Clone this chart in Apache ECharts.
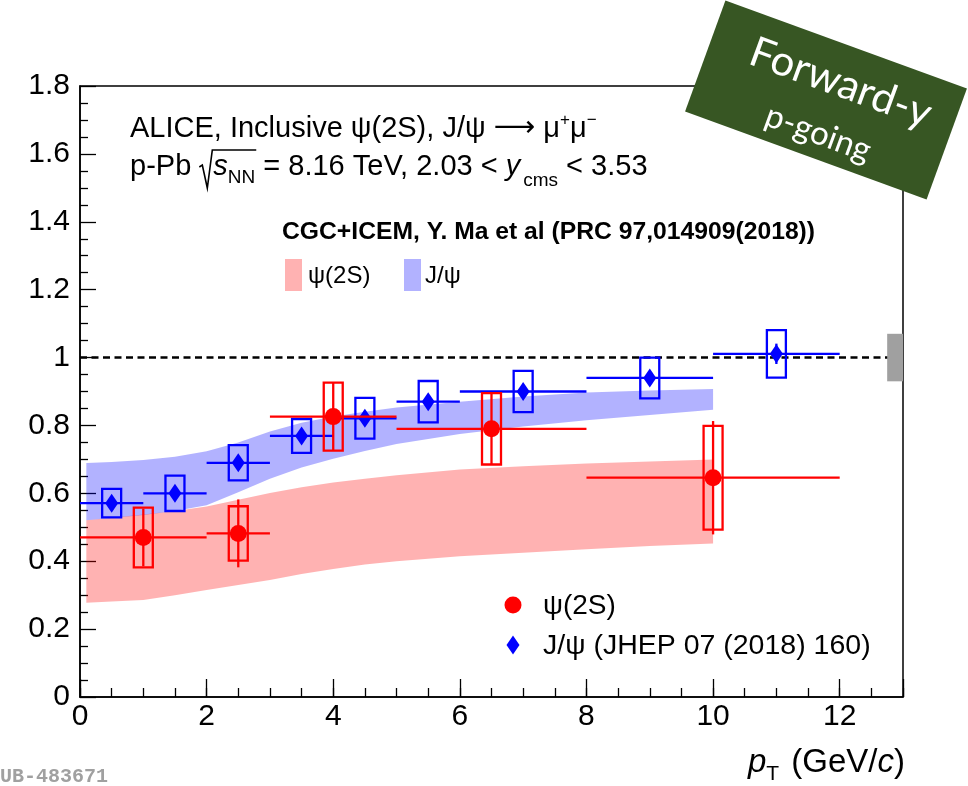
<!DOCTYPE html>
<html>
<head>
<meta charset="utf-8">
<script src="https://cdn.jsdelivr.net/npm/echarts@6/dist/echarts.min.js"></script>
<style>
  html, body { margin: 0; padding: 0; background: #fff; }
  #chart { width: 968px; height: 786px; }
</style>
</head>
<body>
<div id="chart"></div>
<script>
// ---- psi(2S) nuclear modification factor (forward rapidity) ----
const psi2sX    = [1, 2.5, 4, 6.5, 10];
const psi2sXerr = [1, 0.5, 1, 1.5, 2];
const psi2sR    = [0.470, 0.482, 0.826, 0.790, 0.646];
const psi2sStat = [0.085, 0.100, 0.100, 0.105, 0.167];
const psi2sSyst = [0.088, 0.080, 0.100, 0.105, 0.153];

// ---- J/psi nuclear modification factor (JHEP 07 (2018) 160) ----
const jpsiX    = [0.5, 1.5, 2.5, 3.5, 4.5, 5.5, 7, 9, 11];
const jpsiXerr = [0.5, 0.5, 0.5, 0.5, 0.5, 0.5, 1, 1, 1];
const jpsiR    = [0.571, 0.600, 0.690, 0.769, 0.821, 0.870, 0.900, 0.940, 1.011];
const jpsiStat = [0.010, 0.010, 0.012, 0.012, 0.015, 0.015, 0.020, 0.020, 0.030];
const jpsiSyst = [0.042, 0.052, 0.052, 0.050, 0.060, 0.061, 0.061, 0.060, 0.070];

// ---- CGC+ICEM model bands ----
const modelX       = [0.1, 0.5, 1, 1.5, 2, 2.5, 3, 3.5, 4, 4.5, 5, 6, 7, 8, 9, 10];
const jpsiModelHi  = [0.689, 0.692, 0.698, 0.708, 0.724, 0.750, 0.782, 0.808, 0.826, 0.840, 0.853, 0.870, 0.885, 0.897, 0.903, 0.907];
const jpsiModelLo  = [0.521, 0.527, 0.536, 0.548, 0.565, 0.603, 0.643, 0.676, 0.702, 0.725, 0.745, 0.775, 0.797, 0.815, 0.831, 0.846];
const psi2sModelHi = [0.521, 0.528, 0.538, 0.548, 0.561, 0.581, 0.601, 0.618, 0.632, 0.643, 0.653, 0.670, 0.680, 0.688, 0.694, 0.700];
const psi2sModelLo = [0.278, 0.281, 0.286, 0.300, 0.315, 0.330, 0.345, 0.362, 0.377, 0.390, 0.400, 0.415, 0.425, 0.435, 0.445, 0.452];

// ---- unity reference and global normalisation uncertainty ----
const unity = 1;
const globalUnc = 0.07;

// ---- axis ticks ----
const xMin = 0, xMax = 13, xMajor = 2, xMinor = 0.5;
const yMin = 0, yMax = 1.8, yMajor = 0.2;

// drawing constants
const BOX_HALF = 0.15;          // half width of systematic boxes (GeV/c)
const GLOBAL_BOX = [12.75, 13]; // x span of the global uncertainty box
const RED = '#ff0000', BLUE = '#0000ff';
const FONT = '"Liberation Sans", Arial, Helvetica, sans-serif';
const SYM = '"DejaVu Sans", sans-serif';

// text layout helper: measures runs so sub/superscripts sit next to their base
const meas = document.createElement('canvas').getContext('2d');
function runWidth(p) {
  meas.font = `${p.italic ? 'italic' : 'normal'} ${p.bold ? 'bold' : 'normal'} ${p.size}px ${p.family || FONT}`;
  return meas.measureText(p.t).width;
}
function textRun(x, baseline, parts, z) {
  const els = [];
  let cx = x;
  parts.forEach(p => {
    const fam = p.family || FONT;
    els.push({
      type: 'text', z: z || 50, x: cx + (p.dx || 0), y: baseline + (p.dy || 0) - 0.35 * p.size,
      style: {
        text: p.t, fontSize: p.size, fontFamily: fam,
        fontStyle: p.italic ? 'italic' : 'normal', fontWeight: p.bold ? 'bold' : 'normal',
        fill: p.color || '#000', align: 'left', verticalAlign: 'middle'
      }
    });
    cx += runWidth(p) + (p.dx || 0);
  });
  return { els, end: cx };
}
function totalWidth(parts) { return parts.reduce((s, p) => s + runWidth(p) + (p.dx || 0), 0); }

// ---- series builders ----
function bandSeries(hi, lo, color, z) {
  return {
    type: 'custom', z, silent: true, data: [[modelX[0], lo[0]]],
    encode: { x: 0, y: 1 },
    renderItem: (params, api) => {
      const pts = [];
      modelX.forEach((x, i) => pts.push(api.coord([x, hi[i]])));
      for (let i = modelX.length - 1; i >= 0; i--) pts.push(api.coord([modelX[i], lo[i]]));
      return { type: 'polygon', shape: { points: pts }, style: { fill: color } };
    }
  };
}
function errorSeries(xs, ys, xe, st, sy, color, z) {
  return {
    type: 'custom', z, silent: true,
    data: xs.map((x, i) => [x, ys[i], xe[i], st[i], sy[i]]),
    encode: { x: 0, y: 1 },
    renderItem: (params, api) => {
      const x = api.value(0), y = api.value(1), dx = api.value(2), s = api.value(3), b = api.value(4);
      const l = api.coord([x - dx, y]), r = api.coord([x + dx, y]);
      const t = api.coord([x, y + s]), d = api.coord([x, y - s]);
      const b1 = api.coord([x - BOX_HALF, y + b]), b2 = api.coord([x + BOX_HALF, y - b]);
      const ls = { stroke: color, lineWidth: 2.3, fill: null };
      return {
        type: 'group', children: [
          { type: 'line', shape: { x1: l[0], y1: l[1], x2: r[0], y2: r[1] }, style: ls },
          { type: 'line', shape: { x1: t[0], y1: t[1], x2: d[0], y2: d[1] }, style: ls },
          { type: 'rect', shape: { x: b1[0], y: b1[1], width: b2[0] - b1[0], height: b2[1] - b1[1] }, style: ls }
        ]
      };
    }
  };
}

// ---- text blocks ----
const graphics = [];
const L1 = 139, L2 = 177, S = 29;
graphics.push(...textRun(130, L1, [
  { t: 'ALICE, Inclusive ψ(2S), J/ψ ', size: S },
  { t: '⟶', size: S, family: SYM },
  { t: ' μ', size: S },
  { t: '+', size: 17, dy: -13 },
  { t: 'μ', size: S },
  { t: '−', size: 17, dy: -13 }
]).els);

const pre = textRun(130, L2, [{ t: 'p-Pb ', size: S }]);
graphics.push(...pre.els);
const rx = pre.end;
const sRun = textRun(rx + 14, L2, [
  { t: 's', size: S, italic: true },
  { t: 'NN', size: 19, dy: 7 }
]);
graphics.push(...sRun.els);
graphics.push({
  type: 'polyline', z: 50,
  shape: { points: [[rx, L2 - 10], [rx + 3, L2 - 12], [rx + 8, L2 + 11], [rx + 13, L2 - 27], [sRun.end + 1, L2 - 27]] },
  style: { stroke: '#000', lineWidth: 1.6, fill: null }
});
graphics.push(...textRun(sRun.end, L2, [
  { t: ' = 8.16 TeV, 2.03 < ', size: S },
  { t: 'y', size: S, italic: true },
  { t: 'cms', size: 19, dy: 10, dx: 3 },
  { t: ' < 3.53', size: S }
]).els);

// model legend
graphics.push(...textRun(282, 241, [{ t: 'CGC+ICEM, Y. Ma et al (PRC 97,014909(2018))', size: 24.7, bold: true }]).els);
graphics.push({ type: 'rect', z: 50, shape: { x: 285, y: 259, width: 17, height: 32 }, style: { fill: '#ffb2b2' } });
graphics.push(...textRun(308, 285, [{ t: 'ψ(2S)', size: 24 }]).els);
graphics.push({ type: 'rect', z: 50, shape: { x: 404, y: 259, width: 17, height: 32 }, style: { fill: '#b2b2ff' } });
graphics.push(...textRun(425, 285, [{ t: 'J/ψ', size: 24 }]).els);

// data legend
graphics.push({ type: 'circle', z: 50, shape: { cx: 513, cy: 605, r: 8.5 }, style: { fill: RED } });
graphics.push(...textRun(543, 616, [{ t: 'ψ(2S)', size: 28 }]).els);
graphics.push({ type: 'polygon', z: 50, shape: { points: [[513, 635.5], [519.5, 645], [513, 654.5], [506.5, 645]] }, style: { fill: BLUE } });
graphics.push(...textRun(543, 656, [{ t: 'J/ψ (JHEP 07 (2018) 160)', size: 28.5 }]).els);

// x-axis title, right aligned to the frame
const xTitle = [
  { t: 'p', size: 33, italic: true },
  { t: 'T', size: 21, dy: 8 },
  { t: ' (GeV/', size: 33, dx: 3 },
  { t: 'c', size: 33, italic: true },
  { t: ')', size: 33 }
];
graphics.push(...textRun(905 - totalWidth(xTitle), 774, xTitle).els);

// figure id
graphics.push(...textRun(0, 784, [{ t: 'UB-483671', size: 20, bold: true, color: '#a0a0a0', family: '"Liberation Mono", "DejaVu Sans Mono", monospace' }]).els);

// rotated label box
graphics.push({
  type: 'group', x: 826, y: 100, rotation: -20 * Math.PI / 180, z: 200,
  children: [
    { type: 'rect', z: 200, shape: { x: -128.5, y: -59, width: 257, height: 118 }, style: { fill: '#375623' } },
    { type: 'text', z: 201, x: 8, y: -21, style: { text: 'Forward-y', fill: '#fff', fontSize: 42, fontFamily: 'Lato, "Open Sans", sans-serif', align: 'center', verticalAlign: 'middle' } },
    { type: 'text', z: 201, x: 4, y: 34, style: { text: 'p-going', fill: '#fff', fontSize: 33, fontFamily: 'Lato, "Open Sans", sans-serif', align: 'center', verticalAlign: 'middle' } }
  ]
});

const chart = echarts.init(document.getElementById('chart'), null, { renderer: 'canvas' });
chart.setOption({
  animation: false,
  backgroundColor: '#fff',
  grid: { left: 80, top: 86, width: 823, height: 611, show: true, borderColor: '#000', borderWidth: 1.5, backgroundColor: 'transparent', containLabel: false },
  xAxis: [
    {
      type: 'value', min: xMin, max: xMax, interval: xMajor,
      axisLine: { show: true, lineStyle: { color: '#000', width: 1.5 } },
      axisTick: { show: true, inside: true, length: 18, lineStyle: { color: '#000', width: 1.3 } },
      axisLabel: { color: '#000', fontSize: 30, fontFamily: FONT, margin: 5, interval: 0, formatter: v => (v > 12 ? '' : String(v)) },
      splitLine: { show: false }
    },
    {
      type: 'value', min: xMin, max: xMax, interval: xMinor, position: 'bottom',
      axisLine: { show: false },
      axisTick: { show: true, inside: true, length: 9, lineStyle: { color: '#000', width: 1.3 } },
      axisLabel: { show: false },
      splitLine: { show: false }
    }
  ],
  yAxis: {
    type: 'value', min: yMin, max: yMax, interval: yMajor,
    axisLine: { show: true, lineStyle: { color: '#000', width: 1.5 } },
    axisTick: { show: true, inside: true, length: 16, lineStyle: { color: '#000', width: 1.3 } },
    minorTick: { show: true, splitNumber: 4, length: 8, lineStyle: { color: '#000', width: 1.3 } },
    axisLabel: { color: '#000', fontSize: 30, fontFamily: FONT, margin: 10 },
    splitLine: { show: false }
  },
  series: [
    bandSeries(psi2sModelHi, psi2sModelLo, 'rgba(255,0,0,0.3)', 1),
    bandSeries(jpsiModelHi, jpsiModelLo, 'rgba(0,0,255,0.3)', 1),
    {
      type: 'line', z: 2, silent: true, symbol: 'none',
      data: [[xMin, unity], [xMax, unity]],
      lineStyle: { color: '#000', width: 2.5, type: [7, 4.5] }
    },
    {
      type: 'custom', z: 3, silent: true, data: [[GLOBAL_BOX[0], unity]], encode: { x: 0, y: 1 },
      renderItem: (params, api) => {
        const a = api.coord([GLOBAL_BOX[0], unity + globalUnc]);
        const b = api.coord([GLOBAL_BOX[1], unity - globalUnc]);
        return { type: 'rect', shape: { x: a[0], y: a[1], width: b[0] - a[0], height: b[1] - a[1] }, style: { fill: '#a0a0a0' } };
      }
    },
    errorSeries(jpsiX, jpsiR, jpsiXerr, jpsiStat, jpsiSyst, BLUE, 4),
    {
      type: 'scatter', z: 5, silent: true, symbol: 'diamond', symbolSize: [13, 19],
      data: jpsiX.map((x, i) => [x, jpsiR[i]]), itemStyle: { color: BLUE, opacity: 1 }
    },
    errorSeries(psi2sX, psi2sR, psi2sXerr, psi2sStat, psi2sSyst, RED, 6),
    {
      type: 'scatter', z: 7, silent: true, symbol: 'circle', symbolSize: 17,
      data: psi2sX.map((x, i) => [x, psi2sR[i]]), itemStyle: { color: RED, opacity: 1 }
    }
  ],
  graphic: graphics
});
</script>
</body>
</html>
